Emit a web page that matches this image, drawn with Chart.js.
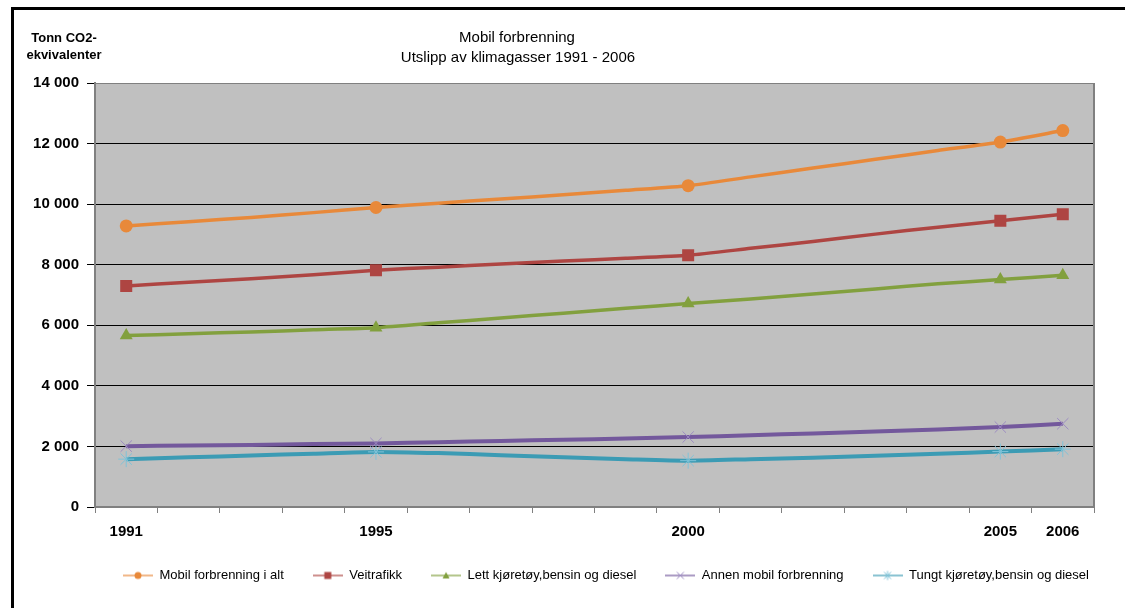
<!DOCTYPE html>
<html>
<head>
<meta charset="utf-8">
<script src="https://cdn.jsdelivr.net/npm/chart.js@4.4.1/dist/chart.umd.min.js"></script>
<style>
html,body{margin:0;padding:0;background:#fff;}
#wrap{position:relative;width:1125px;height:608px;}
canvas{display:block;}
</style>
</head>
<body>
<div id="wrap"><canvas id="c" width="1125" height="608"></canvas></div>
<script>
const years = ['1991','1992','1993','1994','1995','1996','1997','1998','1999','2000','2001','2002','2003','2004','2005','2006'];
const shownYears = ['1991','1995','2000','2005','2006'];
const titleLines = ['Mobil forbrenning', 'Utslipp av klimagasser 1991 - 2006'];
const yUnitLines = ['Tonn CO2-', 'ekvivalenter'];
const seriesNames = ['Mobil forbrenning i alt', 'Veitrafikk', 'Lett kjøretøy,bensin og diesel', 'Annen mobil forbrenning', 'Tungt kjøretøy,bensin og diesel'];
const mobilIAlt   = [9280, 9420, 9560, 9720, 9890, 10030, 10170, 10310, 10460, 10610, 10900, 11190, 11480, 11770, 12050, 12430];
const veitrafikk  = [7300, 7420, 7540, 7670, 7820, 7920, 8020, 8120, 8210, 8310, 8540, 8770, 9010, 9240, 9450, 9670];
const lettKjoretoy= [5660, 5720, 5780, 5850, 5920, 6080, 6240, 6400, 6560, 6720, 6870, 7030, 7200, 7370, 7510, 7650];
const annenMobil  = [2010, 2030, 2050, 2080, 2100, 2140, 2180, 2220, 2260, 2310, 2370, 2430, 2490, 2560, 2640, 2750];
const tungtKjoretoy=[1580, 1640, 1700, 1760, 1820, 1780, 1710, 1640, 1580, 1530, 1580, 1630, 1690, 1760, 1830, 1910];
const yTicks = [0, 2000, 4000, 6000, 8000, 10000, 12000, 14000];

const styles = [
  {line:'#E8893A', mark:'#E8893A', style:'circle', r:6.5, w:3.5},
  {line:'#AE4542', mark:'#AE4542', style:'rect', r:8.5, w:3.5},
  {line:'#82A03E', mark:'#82A03E', style:'triangle', r:7.5, w:3.5},
  {line:'#73589C', mark:'#9D8CC2', style:'crossRot', r:8, w:4},
  {line:'#3B9BB4', mark:'#7FC3D8', style:'star', r:8, w:4}
];
const seriesData = [mobilIAlt, veitrafikk, lettKjoretoy, annenMobil, tungtKjoretoy];

function radii(r){ return years.map(y => shownYears.includes(y) ? r : 0); }

function legendIcon(s){
  const c = document.createElement('canvas');
  c.width = 30; c.height = 12;
  const g = c.getContext('2d');
  g.strokeStyle = s.line; g.lineWidth = 1.2;
  g.beginPath(); g.moveTo(0,6); g.lineTo(30,6); g.stroke();
  g.fillStyle = s.mark; g.strokeStyle = s.mark;
  const cx = 15, cy = 6;
  if (s.style==='circle'){ g.beginPath(); g.arc(cx,cy,3.5,0,Math.PI*2); g.fill(); }
  else if (s.style==='rect'){ g.fillRect(cx-3.5,cy-3.5,7,7); }
  else if (s.style==='triangle'){ g.beginPath(); g.moveTo(cx,cy-3.5); g.lineTo(cx+3.5,cy+3); g.lineTo(cx-3.5,cy+3); g.closePath(); g.fill(); }
  else if (s.style==='crossRot'){ g.lineWidth=1; g.beginPath(); g.moveTo(cx-3.5,cy-3.5); g.lineTo(cx+3.5,cy+3.5); g.moveTo(cx+3.5,cy-3.5); g.lineTo(cx-3.5,cy+3.5); g.stroke(); }
  else { g.lineWidth=1; g.beginPath(); g.moveTo(cx-3.5,cy-3.5); g.lineTo(cx+3.5,cy+3.5); g.moveTo(cx+3.5,cy-3.5); g.lineTo(cx-3.5,cy+3.5); g.moveTo(cx,cy-4.5); g.lineTo(cx,cy+4.5); g.stroke(); }
  return c;
}

const datasets = seriesNames.map((name,i) => ({
  label: name,
  data: seriesData[i],
  borderColor: styles[i].line,
  backgroundColor: styles[i].mark,
  pointBackgroundColor: styles[i].mark,
  pointBorderColor: styles[i].mark,
  pointBorderWidth: (styles[i].style==='crossRot'||styles[i].style==='star') ? 1 : 0,
  pointStyle: styles[i].style,
  pointRadius: radii(styles[i].r),
  pointHoverRadius: radii(styles[i].r),
  borderWidth: styles[i].w,
  tension: 0.2,
  fill: false,
  legendIcon: legendIcon(styles[i])
}));

const LEGEND_PAD = 29;
const decor = {
  id: 'decor',
  afterLayout(chart){
    if (chart.legend) { chart.legend.left = 123 - LEGEND_PAD; chart.legend.right = 1300; }
  },
  beforeDraw(chart){
    const {ctx, chartArea: a} = chart;
    ctx.save();
    ctx.fillStyle = '#ffffff';
    ctx.fillRect(0,0,chart.width,chart.height);
    ctx.fillStyle = '#C0C0C0';
    ctx.fillRect(a.left, a.top, a.right-a.left, a.bottom-a.top);
    // outer frame
    ctx.fillStyle = '#000';
    ctx.fillRect(11, 7, 1125-11, 3);
    ctx.fillRect(11, 7, 3, 608-7);
    // title
    ctx.fillStyle = '#000';
    ctx.textAlign = 'center';
    ctx.textBaseline = 'middle';
    ctx.font = '15px "Liberation Sans", Arial, sans-serif';
    ctx.fillText(titleLines[0], 517, 38);
    ctx.fillText(titleLines[1], 518, 58);
    ctx.font = 'bold 13px "Liberation Sans", Arial, sans-serif';
    ctx.fillText(yUnitLines[0], 64, 38);
    ctx.fillText(yUnitLines[1], 64, 55);
    ctx.restore();
  },
  beforeDatasetsDraw(chart){
    const {ctx, chartArea: a} = chart;
    ctx.save();
    ctx.strokeStyle = '#808080';
    ctx.lineWidth = 2;
    ctx.beginPath();
    ctx.moveTo(a.right, a.top); ctx.lineTo(a.right, a.bottom);
    ctx.stroke();
    ctx.restore();
  }
};

new Chart(document.getElementById('c'), {
  type: 'line',
  data: { labels: years, datasets },
  plugins: [decor],
  options: {
    responsive: false,
    animation: false,
    layout: { padding: { left: 0, right: 31, top: 83, bottom: 16 } },
    plugins: {
      title: { display: false },
      tooltip: { enabled: false },
      legend: {
        position: 'bottom',
        align: 'start',
        labels: {
          usePointStyle: true,
          pointStyleWidth: 30,
          padding: LEGEND_PAD,
          color: '#000',
          font: { family: '"Liberation Sans", Arial, sans-serif', size: 13 },
          generateLabels(chart){
            return chart.data.datasets.map((d,i) => ({
              text: d.label, pointStyle: d.legendIcon, fillStyle: d.borderColor,
              strokeStyle: d.borderColor, lineWidth: 0, hidden: false, datasetIndex: i, fontColor: '#000'
            }));
          }
        }
      }
    },
    scales: {
      x: {
        offset: true,
        grid: { offset: true, drawOnChartArea: false, color: '#808080', tickLength: 6, lineWidth: 1 },
        border: { color: '#808080', width: 2 },
        ticks: {
          autoSkip: false, maxRotation: 0, padding: 10, color: '#000',
          font: { family: '"Liberation Sans", Arial, sans-serif', size: 15, weight: 'bold' },
          callback(v, i){ const y = years[i]; return shownYears.includes(y) ? y : ''; }
        },
        afterFit(s){ s.height = 33; }
      },
      y: {
        min: 0, max: 14000,
        afterBuildTicks(s){ s.ticks = yTicks.map(v => ({value: v})); },
        grid: {
          color: c => (c.tick && (c.tick.value === 0 || c.tick.value === 14000)) ? '#808080' : '#000000',
          tickColor: '#000', tickLength: 8, lineWidth: 1
        },
        border: { color: '#808080', width: 2 },
        ticks: {
          padding: 8, color: '#000',
          font: { family: '"Liberation Sans", Arial, sans-serif', size: 15, weight: 'bold' },
          callback(v){ return String(v).replace(/\B(?=(\d{3})+(?!\d))/g, ' '); }
        },
        afterFit(s){ s.width = 95; }
      }
    }
  }
});
</script>
</body>
</html>
